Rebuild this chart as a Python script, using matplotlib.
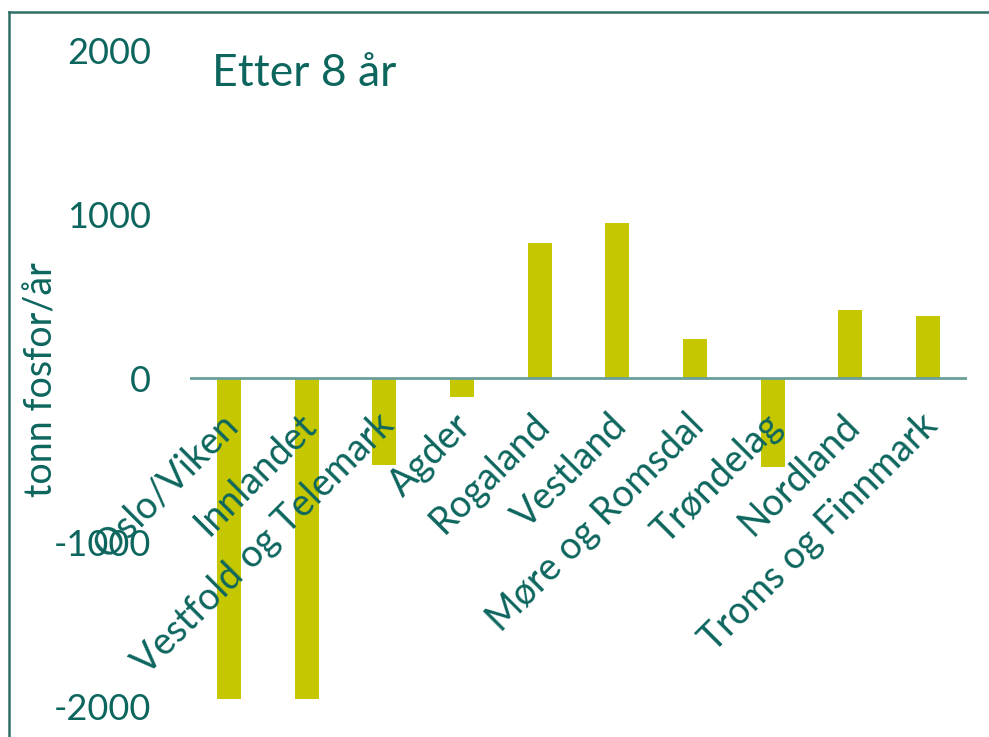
import matplotlib.pyplot as plt
from matplotlib.lines import Line2D
import matplotlib.transforms as mtransforms

# data
regions = ["Oslo/Viken", "Innlandet", "Vestfold og Telemark", "Agder", "Rogaland",
           "Vestland", "Møre og Romsdal", "Trøndelag", "Nordland", "Troms og Finnmark"]
values = [-1960, -1960, -530, -115, 825, 945, 235, -545, 415, 380]
yticks = [-2000, -1000, 0, 1000, 2000]

TEXT = "#0d665e"
BAR = "#c5c800"
ZERO = "#6a9e99"
FRAME = "#2f6f66"

plt.rcParams['font.family'] = ['Lato', 'DejaVu Sans']

W, H = 989, 737
fig = plt.figure(figsize=(W / 100, H / 100), dpi=100)

def fx(px):
    return px / W

def fy(py):
    return 1 - py / H

# axes: zero line spans x 190..967, y 2000 -> 50px, -2000 -> 706px
ax = fig.add_axes([fx(190), fy(706), fx(967) - fx(190), fy(50) - fy(706)])
ax.set_xlim(-0.5, len(regions) - 0.5)
ax.set_ylim(-2000, 2000)

ax.bar(range(len(regions)), values, width=0.31, color=BAR, zorder=2)
ax.axhline(0, color=ZERO, lw=2, zorder=3)

for s in ax.spines.values():
    s.set_visible(False)
ax.set_xticks([])
ax.set_yticks(yticks)
ax.set_yticklabels([str(v) for v in yticks])
ax.tick_params(axis='y', length=0, pad=28, labelsize=26, labelcolor=TEXT)

# rotated category labels sitting under the zero line
for i, name in enumerate(regions):
    off = mtransforms.offset_copy(ax.transData, fig=fig, x=-9, y=-29, units='dots')
    ax.text(i, 0, name, transform=off, rotation=45, ha='right', va='top',
            rotation_mode='anchor', fontsize=27, color=TEXT, zorder=4)

fig.text(fx(42), fy(380), "tonn fosfor/år", rotation=90, ha='center', va='center',
         fontsize=27, color=TEXT)
fig.text(fx(212), fy(73), "Etter 8 år", ha='left', va='center', fontsize=32, color=TEXT)

# slide frame, cut off at the right and bottom
fig.add_artist(Line2D([fx(9), fx(9)], [fy(12), 0], color=FRAME, lw=1.8))
fig.add_artist(Line2D([fx(9), 1], [fy(12), fy(12)], color=FRAME, lw=1.8))

fig.savefig("out.png", dpi=100)
